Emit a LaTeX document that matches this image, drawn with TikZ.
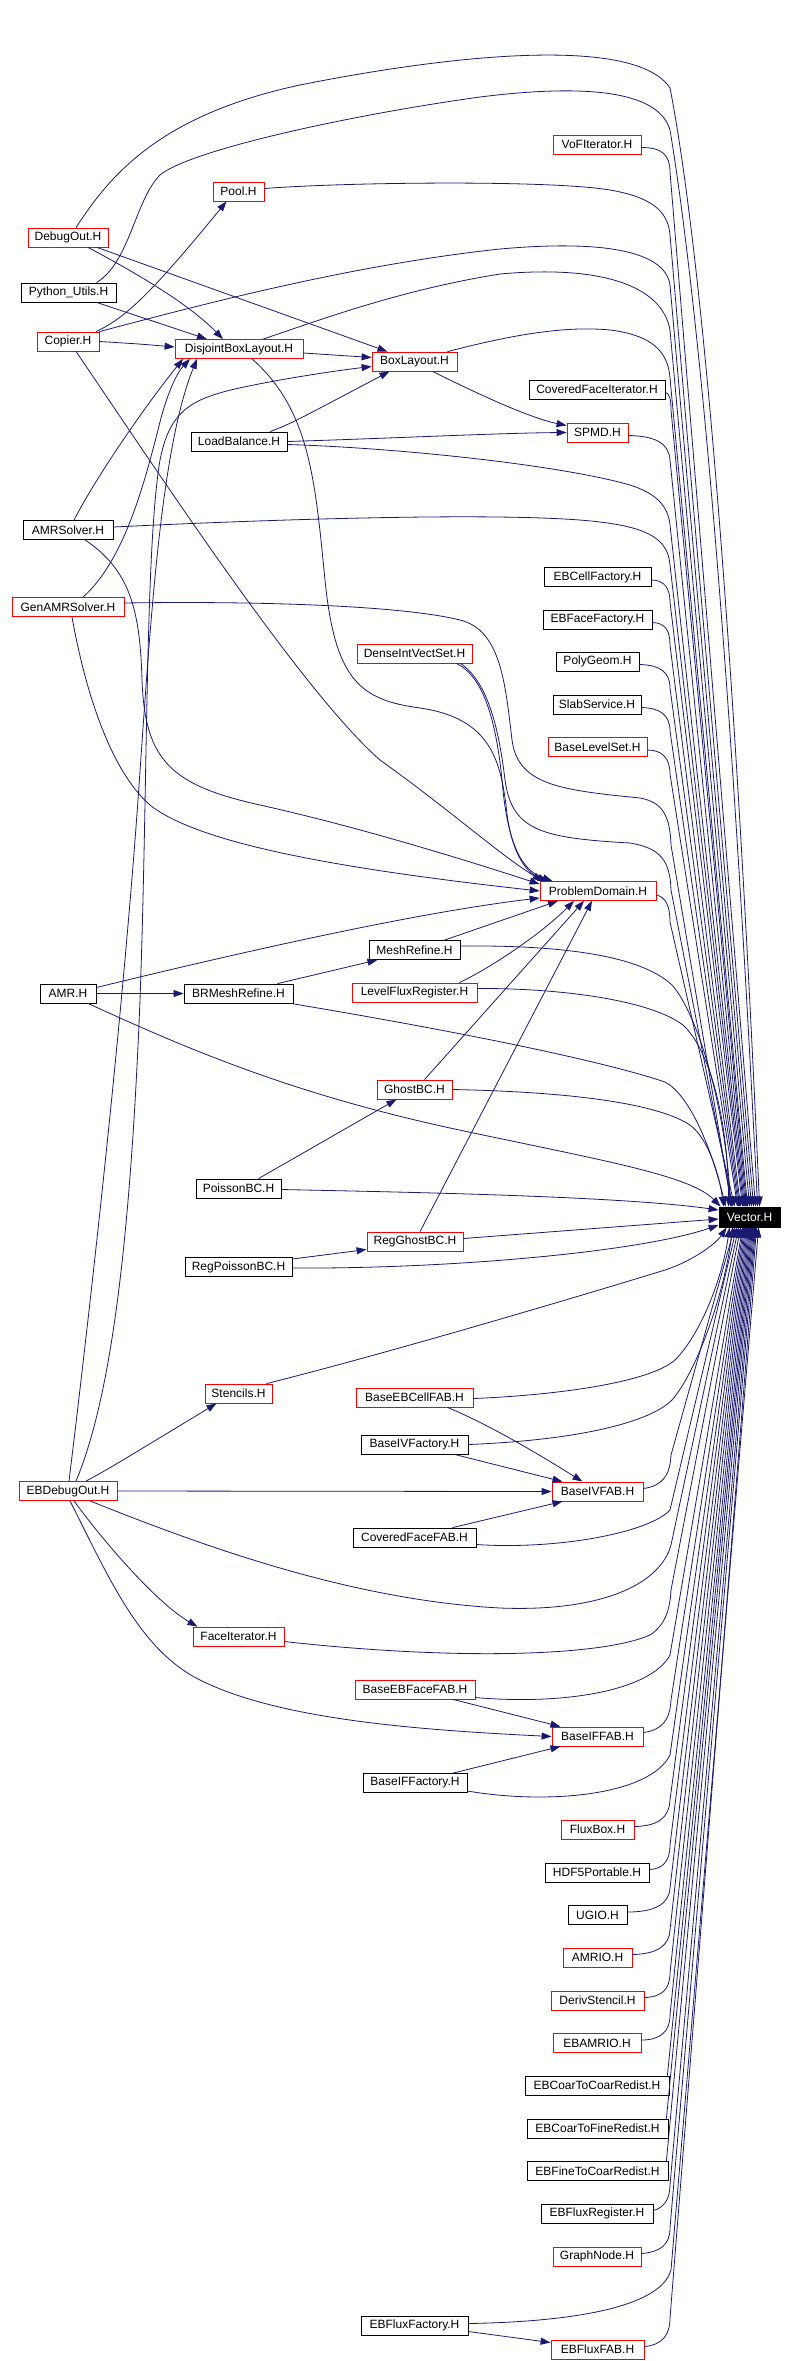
\documentclass[tikz,border=0pt]{standalone}
\usepackage{fontspec}
\setmainfont{Liberation Sans}
\usetikzlibrary{arrows.meta}
\definecolor{edgeblue}{RGB}{25,25,112}

\begin{document}
\begin{tikzpicture}[x=1pt,y=-1pt,>={Triangle[length=10pt,width=7pt]},
	  file/.style={draw=black,fill=white,line width=0.8pt,minimum height=19pt,inner sep=0pt,font=\fontsize{12}{14}\selectfont},
	  redfile/.style={file,draw=red},
	  incl/.style={->,draw=edgeblue,line width=0.8pt}]
	  \useasboundingbox (0,0) rectangle (794,2361);
	  \node[redfile,minimum width=80pt] (debugout) at (68,237.5) {DebugOut.H};
	  \node[file,minimum width=95pt] (pyutils) at (68.5,292.5) {Python\_Utils.H};
	  \node[redfile,minimum width=62pt] (copier) at (68,341.5) {Copier.H};
	  \node[file,minimum width=90pt] (amrsolver) at (68,530) {AMRSolver.H};
	  \node[redfile,minimum width=112pt] (genamrsolver) at (68,607) {GenAMRSolver.H};
	  \node[file,minimum width=56pt] (amr) at (68,993.5) {AMR.H};
	  \node[redfile,minimum width=98pt] (ebdebugout) at (68,1491) {EBDebugOut.H};
	  \node[redfile,minimum width=51pt] (pool) at (238.5,191.5) {Pool.H};
	  \node[redfile,minimum width=128pt] (dbl) at (239,349) {DisjointBoxLayout.H};
	  \node[file,minimum width=96pt] (loadbalance) at (239,441.5) {LoadBalance.H};
	  \node[file,minimum width=109pt] (brmesh) at (238.5,993.5) {BRMeshRefine.H};
	  \node[file,minimum width=85pt] (poissonbc) at (238.5,1188.5) {PoissonBC.H};
	  \node[file,minimum width=107pt] (regpoissonbc) at (238.5,1267) {RegPoissonBC.H};
	  \node[redfile,minimum width=67pt] (stencils) at (238.5,1393.5) {Stencils.H};
	  \node[redfile,minimum width=91pt] (faceiter) at (238.5,1636.5) {FaceIterator.H};
	  \node[redfile,minimum width=85pt] (boxlayout) at (414.5,361.5) {BoxLayout.H};
	  \node[redfile,minimum width=115pt] (denseivs) at (414.5,653.5) {DenseIntVectSet.H};
	  \node[file,minimum width=91pt] (meshrefine) at (414.5,950) {MeshRefine.H};
	  \node[redfile,minimum width=125pt] (levelflux) at (414.5,992.5) {LevelFluxRegister.H};
	  \node[redfile,minimum width=75pt] (ghostbc) at (414.5,1089.5) {GhostBC.H};
	  \node[redfile,minimum width=96pt] (regghostbc) at (415,1241.5) {RegGhostBC.H};
	  \node[redfile,minimum width=117pt] (baseebcellfab) at (414.5,1397.5) {BaseEBCellFAB.H};
	  \node[file,minimum width=107pt] (baseivfactory) at (414.5,1444.5) {BaseIVFactory.H};
	  \node[file,minimum width=123pt] (coveredfacefab) at (414.5,1537.5) {CoveredFaceFAB.H};
	  \node[redfile,minimum width=120pt] (baseebfacefab) at (415,1689.5) {BaseEBFaceFAB.H};
	  \node[file,minimum width=104pt] (baseiffactory) at (415,1783) {BaseIFFactory.H};
	  \node[file,minimum width=107pt] (ebfluxfactory) at (414.5,2325.5) {EBFluxFactory.H};
	  \node[redfile,minimum width=88pt] (vofiter) at (597,144.5) {VoFIterator.H};
	  \node[file,minimum width=136pt] (cfiter) at (597,389.5) {CoveredFaceIterator.H};
	  \node[redfile,minimum width=61pt] (spmd) at (597.5,432.5) {SPMD.H};
	  \node[file,minimum width=107pt] (ebcellfactory) at (597.5,577) {EBCellFactory.H};
	  \node[file,minimum width=109pt] (ebfacefactory) at (597.5,619.5) {EBFaceFactory.H};
	  \node[file,minimum width=83pt] (polygeom) at (597.5,661.5) {PolyGeom.H};
	  \node[file,minimum width=88pt] (slabservice) at (597,704.5) {SlabService.H};
	  \node[redfile,minimum width=99pt] (baselevelset) at (597.5,747) {BaseLevelSet.H};
	  \node[redfile,minimum width=116pt] (probdomain) at (598,891) {ProblemDomain.H};
	  \node[redfile,minimum width=91pt] (baseivfab) at (597.5,1491.5) {BaseIVFAB.H};
	  \node[redfile,minimum width=91pt] (baseiffab) at (597.5,1736.5) {BaseIFFAB.H};
	  \node[redfile,minimum width=73pt] (fluxbox) at (597.5,1829.5) {FluxBox.H};
	  \node[file,minimum width=104pt] (hdf5) at (597,1872.5) {HDF5Portable.H};
	  \node[file,minimum width=59pt] (ugio) at (597.5,1915) {UGIO.H};
	  \node[redfile,minimum width=69pt] (amrio) at (597.5,1957.5) {AMRIO.H};
	  \node[redfile,minimum width=93pt] (derivstencil) at (597.5,2000.5) {DerivStencil.H};
	  \node[redfile,minimum width=88pt] (ebamrio) at (597,2043) {EBAMRIO.H};
	  \node[file,minimum width=144pt] (ebc2c) at (597,2085.5) {EBCoarToCoarRedist.H};
	  \node[file,minimum width=141pt] (ebc2f) at (597.5,2128.5) {EBCoarToFineRedist.H};
	  \node[file,minimum width=141pt] (ebf2c) at (597.5,2171) {EBFineToCoarRedist.H};
	  \node[file,minimum width=112pt] (ebfluxreg) at (597,2213.5) {EBFluxRegister.H};
	  \node[redfile,minimum width=88pt] (graphnode) at (597,2256.5) {GraphNode.H};
	  \node[redfile,minimum width=93pt] (ebfluxfab) at (597.5,2349.5) {EBFluxFAB.H};
	  \node[file,fill=black,text=white,minimum width=61pt,minimum height=20pt] (vector) at (749.5,1217) {Vector.H};
	  \draw[incl] ([xshift=20pt]debugout.south) .. controls (140,275) and (190,305) .. ([xshift=-16pt]dbl.north);
	  \draw[incl] ([xshift=29pt]debugout.south) -- ([xshift=-27pt]boxlayout.north);
	  \draw[incl] ([xshift=8pt]debugout.north) .. controls (110,175) and (160,115) .. (300,85) .. controls (450,55) and (635,35) .. (670,88) .. controls (692,200) and (728,500) .. ([xshift=41pt]vector.north west);
	  \draw[incl] ([xshift=28pt]pyutils.south) -- ([xshift=-32pt]dbl.north);
	  \draw[incl] ([xshift=28pt]pyutils.north) .. controls (130,262) and (135,200) .. (160,175) .. controls (190,150) and (350,115) .. (480,97) .. controls (600,82) and (660,95) .. (670,130) .. controls (690,250) and (725,550) .. ([xshift=39pt]vector.north west);
	  \draw[incl] ([xshift=28pt]copier.north) .. controls (125,318) and (150,295) .. ([xshift=-12pt]pool.south);
	  \draw[incl] (copier.east) .. controls (140,344) .. ([yshift=2pt]dbl.west);
	  \draw[incl] (copier.north east) .. controls (200,305) and (350,265) .. (500,249) .. controls (600,240) and (665,250) .. (670,285) -- ([xshift=33pt]vector.north west);
	  \draw[incl] ([xshift=8pt]copier.south) .. controls (150,460) and (300,690) .. (380,760) .. controls (450,810) and (500,855) .. ([xshift=3pt]probdomain.north west);
	  \draw[incl] ([yshift=3pt]pool.east) .. controls (350,182) and (550,180) .. (610,190) .. controls (650,197) and (668,210) .. (670,235) -- ([xshift=35pt]vector.north west);
	  \draw[incl] ([yshift=-3pt]vofiter.east) .. controls (662,147.5) and (670,155) .. (670,172) -- ([xshift=37pt]vector.north west);
	  \draw[incl] ([yshift=-4pt]dbl.east) -- ([yshift=4pt]boxlayout.west);
	  \draw[incl] ([xshift=24pt]dbl.north) .. controls (320,320) and (400,290) .. (500,274) .. controls (600,265) and (662,285) .. (670,330) -- ([xshift=31pt]vector.north west);
	  \draw[incl] ([xshift=13pt]dbl.south) .. controls (310,410) and (315,480) .. (325,580) .. controls (335,680) and (360,700) .. (420,708) .. controls (490,718) and (500,760) .. (506,805) .. controls (510,850) and (525,872) .. ([xshift=8pt]probdomain.north west);
	  \draw[incl] ([xshift=18pt]boxlayout.south) .. controls (480,395) and (530,418) .. ([yshift=7pt]spmd.west);
	  \draw[incl] ([xshift=33pt]boxlayout.north) .. controls (500,338) and (560,325) .. (610,330) .. controls (650,335) and (668,350) .. (670,378) -- ([xshift=29pt]vector.north west);
	  \draw[incl] ([yshift=-3pt]cfiter.east) .. controls (669,393) and (671,398) .. (671,410) -- ([xshift=28pt]vector.north west);
	  \draw[incl] ([xshift=31pt]loadbalance.north) .. controls (290,424) .. ([xshift=-25pt]boxlayout.south);
	  \draw[incl] (loadbalance.east) .. controls (400,438) and (500,433) .. (spmd.west);
	  \draw[incl] ([yshift=-3pt]loadbalance.east) .. controls (400,448) and (560,465) .. (630,485) .. controls (655,493) and (668,505) .. (670,525) -- ([xshift=26pt]vector.north west);
	  \draw[incl] ([yshift=-3pt]spmd.east) .. controls (655,436) and (669,443) .. (670,460) -- ([xshift=27pt]vector.north west);
	  \draw[incl] ([xshift=6pt]amrsolver.north) .. controls (100,470) and (150,400) .. ([xshift=-56pt]dbl.south);
	  \draw[incl] ([yshift=3pt]amrsolver.east) .. controls (300,518) and (520,512) .. (600,522) .. controls (650,528) and (668,540) .. (670,565) -- ([xshift=25pt]vector.north west);
	  \draw[incl] ([xshift=17pt]amrsolver.south) .. controls (130,570) and (140,610) .. (142,680) .. controls (145,760) and (170,785) .. (260,805) .. controls (350,825) and (450,855) .. ([yshift=-3pt]probdomain.north west);
	  \draw[incl] ([xshift=15pt]genamrsolver.north) .. controls (125,560) and (145,480) .. (158,430) .. controls (165,400) and (175,375) .. ([xshift=-49pt]dbl.south);
	  \draw[incl] ([yshift=4pt]genamrsolver.east) .. controls (250,601) and (400,605) .. (460,620) .. controls (500,630) and (505,680) .. (512,740) .. controls (518,785) and (560,790) .. (640,798) .. controls (662,802) and (670,815) .. (671,845) -- ([xshift=13pt]vector.north west);
	  \draw[incl] ([xshift=4pt]genamrsolver.south) .. controls (85,690) and (110,770) .. (150,805) .. controls (200,845) and (350,870) .. (probdomain.west);
	  \draw[incl] ([yshift=-3pt]ebcellfactory.east) .. controls (664,580) and (670,588) .. (670,602) -- ([xshift=24pt]vector.north west);
	  \draw[incl] ([yshift=-3pt]ebfacefactory.east) .. controls (665,623) and (670,630) .. (670,645) -- ([xshift=22pt]vector.north west);
	  \draw[incl] ([yshift=-3pt]polygeom.east) .. controls (660,665) and (670,672) .. (670,688) -- ([xshift=21pt]vector.north west);
	  \draw[incl] ([yshift=-3pt]slabservice.east) .. controls (660,708) and (670,715) .. (670,731) -- ([xshift=20pt]vector.north west);
	  \draw[incl] ([yshift=-3pt]baselevelset.east) .. controls (662,750) and (670,758) .. (670,774) -- ([xshift=19pt]vector.north west);
	  \draw[incl] ([xshift=42pt]denseivs.south) .. controls (480,675) and (495,710) .. (502,780) .. controls (507,840) and (520,870) .. ([xshift=13pt]probdomain.north west);
	  \draw[incl] ([xshift=46pt]denseivs.south) .. controls (485,680) and (498,720) .. (505,780) .. controls (512,830) and (540,838) .. (630,843) .. controls (660,848) and (670,860) .. (671,890) -- ([xshift=14pt]vector.north west);
	  \draw[incl] ([yshift=-4pt]probdomain.east) .. controls (665,897) and (670,905) .. (670,922) -- ([xshift=16pt]vector.north west);
	  \draw[incl] ([yshift=6pt]amr.east) .. controls (250,950) and (420,912) .. ([yshift=-7pt]probdomain.west);
	  \draw[incl] (amr.east) -- (brmesh.west);
	  \draw[incl] ([xshift=20pt]amr.south) .. controls (200,1055) and (300,1095) .. (450,1128) .. controls (600,1160) and (690,1175) .. ([xshift=2pt]vector.north west);
	  \draw[incl] ([xshift=39pt]brmesh.north) -- ([xshift=-37pt]meshrefine.south);
	  \draw[incl] ([xshift=52pt]brmesh.south) .. controls (450,1030) and (600,1060) .. (665,1082) .. controls (690,1095) and (712,1150) .. ([xshift=7pt]vector.north west);
	  \draw[incl] ([xshift=30pt]meshrefine.north) -- ([xshift=-40pt]probdomain.south);
	  \draw[incl] ([yshift=4pt]meshrefine.east) .. controls (560,945) and (640,955) .. (672,985) .. controls (695,1010) and (725,1100) .. ([xshift=12pt]vector.north west);
	  \draw[incl] ([xshift=45pt]levelflux.north) .. controls (490,968) and (540,935) .. ([xshift=-24pt]probdomain.south);
	  \draw[incl] ([yshift=4pt]levelflux.east) .. controls (560,988) and (650,1000) .. (683,1025) .. controls (710,1050) and (728,1120) .. ([xshift=10pt]vector.north west);
	  \draw[incl] ([xshift=10pt]ghostbc.north) -- ([xshift=-14pt]probdomain.south);
	  \draw[incl] (ghostbc.east) .. controls (580,1092) and (660,1105) .. (690,1125) .. controls (710,1140) and (720,1180) .. ([xshift=5pt]vector.north west);
	  \draw[incl] ([xshift=20pt]poissonbc.north) -- ([xshift=-18pt]ghostbc.south);
	  \draw[incl] ([yshift=-1pt]poissonbc.east) .. controls (400,1192) and (620,1196) .. ([yshift=7pt]vector.west);
	  \draw[incl] ([xshift=5pt]regghostbc.north) -- ([xshift=-6pt]probdomain.south);
	  \draw[incl] ([yshift=3pt]regghostbc.east) -- ([yshift=-2pt]vector.west);
	  \draw[incl] ([yshift=8pt]regpoissonbc.east) -- ([yshift=-8pt]regghostbc.west);
	  \draw[incl] ([yshift=-1pt]regpoissonbc.east) .. controls (450,1269) and (640,1252) .. ([yshift=-8pt]vector.west);
	  \draw[incl] ([xshift=28pt]stencils.north) .. controls (400,1350) and (600,1290) .. (665,1270) .. controls (690,1262) and (715,1245) .. ([xshift=8pt]vector.south west);
	  \draw[incl] ([xshift=18pt]ebdebugout.north) .. controls (110,1468) .. ([xshift=-22pt]stencils.south);
	  \draw[incl] ([xshift=1pt]ebdebugout.north) .. controls (85,1350) and (120,1050) .. (138,800) .. controls (150,630) and (160,450) .. ([xshift=-42pt]dbl.south);
	  \draw[incl] ([xshift=8pt]ebdebugout.north) .. controls (110,1400) and (130,1250) .. (140,1000) .. controls (148,780) and (145,550) .. (160,460) .. controls (172,400) and (200,395) .. (280,380) .. controls (320,373) and (350,369) .. ([yshift=-5pt]boxlayout.west);
	  \draw[incl] (ebdebugout.east) -- (baseivfab.west);
	  \draw[incl] ([xshift=22pt]ebdebugout.south) .. controls (200,1545) and (350,1600) .. (500,1608) .. controls (600,1612) and (660,1585) .. (671,1545) -- ([xshift=20pt]vector.south west);
	  \draw[incl] ([xshift=6pt]ebdebugout.south) .. controls (110,1550) and (160,1605) .. ([xshift=-41pt]faceiter.north);
	  \draw[incl] ([xshift=2pt]ebdebugout.south) .. controls (110,1580) and (140,1650) .. (200,1680) .. controls (280,1720) and (420,1730) .. (baseiffab.west);
	  \draw[incl] ([xshift=33pt]baseebcellfab.south) .. controls (490,1425) and (540,1455) .. ([xshift=-15pt]baseivfab.north);
	  \draw[incl] ([yshift=-1pt]baseebcellfab.east) .. controls (560,1395) and (650,1382) .. (675,1360) .. controls (700,1335) and (722,1280) .. ([xshift=11pt]vector.south west);
	  \draw[incl] ([xshift=40pt]baseivfactory.south) -- ([xshift=-35pt]baseivfab.north);
	  \draw[incl] (baseivfactory.east) .. controls (580,1440) and (650,1422) .. (672,1400) .. controls (698,1370) and (725,1290) .. ([xshift=14pt]vector.south west);
	  \draw[incl] ([xshift=38pt]coveredfacefab.north) -- ([xshift=-35pt]baseivfab.south);
	  \draw[incl] ([yshift=-7pt]coveredfacefab.east) .. controls (560,1550) and (650,1532) .. (670,1510) -- ([xshift=18pt]vector.south west);
	  \draw[incl] ([yshift=3pt]baseivfab.east) .. controls (662,1486) and (670,1476) .. (671,1455) -- ([xshift=16pt]vector.south west);
	  \draw[incl] ([yshift=-5pt]faceiter.east) .. controls (450,1660) and (600,1657) .. (650,1635) .. controls (665,1625) and (670,1610) .. (671,1590) -- ([xshift=22pt]vector.south west);
	  \draw[incl] ([xshift=38pt]baseebfacefab.south) -- ([xshift=-37pt]baseiffab.north);
	  \draw[incl] ([yshift=-8pt]baseebfacefab.east) .. controls (560,1705) and (650,1692) .. (670,1655) -- ([xshift=24pt]vector.south west);
	  \draw[incl] ([xshift=38pt]baseiffactory.north) -- ([xshift=-37pt]baseiffab.south);
	  \draw[incl] ([yshift=-8pt]baseiffactory.east) .. controls (550,1805) and (650,1795) .. (670,1755) -- ([xshift=26pt]vector.south west);
	  \draw[incl] ([yshift=4pt]baseiffab.east) .. controls (662,1730) and (670,1720) .. (671,1700) -- ([xshift=25pt]vector.south west);
	  \draw[incl] ([yshift=3pt]fluxbox.east) .. controls (658,1826) and (669,1818) .. (670,1800) -- ([xshift=27pt]vector.south west);
	  \draw[incl] ([yshift=3pt]hdf5.east) .. controls (662,1869) and (670,1862) .. (670,1845) -- ([xshift=28pt]vector.south west);
	  \draw[incl] ([yshift=3pt]ugio.east) .. controls (655,1912) and (669,1904) .. (670,1888) -- ([xshift=29pt]vector.south west);
	  \draw[incl] ([yshift=3pt]amrio.east) .. controls (657,1954) and (669,1946) .. (670,1930) -- ([xshift=30pt]vector.south west);
	  \draw[incl] ([yshift=3pt]derivstencil.east) .. controls (661,1997) and (670,1990) .. (670,1973) -- ([xshift=31pt]vector.south west);
	  \draw[incl] ([yshift=3pt]ebamrio.east) .. controls (660,2040) and (670,2032) .. (670,2015) -- ([xshift=32pt]vector.south west);
	  \draw[incl] ([xshift=-2pt]ebc2c.north east) -- ([xshift=33pt]vector.south west);
	  \draw[incl] ([xshift=-2pt]ebc2f.north east) -- ([xshift=34pt]vector.south west);
	  \draw[incl] ([xshift=-2pt]ebf2c.north east) -- ([xshift=35pt]vector.south west);
	  \draw[incl] ([yshift=3pt]ebfluxreg.east) .. controls (663,2208) and (670,2200) .. (670,2185) -- ([xshift=36pt]vector.south west);
	  \draw[incl] ([yshift=3pt]graphnode.east) .. controls (660,2252) and (670,2245) .. (670,2228) -- ([xshift=37pt]vector.south west);
	  \draw[incl] ([yshift=3pt]ebfluxfab.east) .. controls (662,2345) and (670,2335) .. (670,2318) -- ([xshift=38pt]vector.south west);
	  \draw[incl] ([yshift=2pt]ebfluxfactory.east) .. controls (560,2322) and (660,2310) .. (671,2270) -- ([xshift=40pt]vector.south west);
	  \draw[incl] ([yshift=-6pt]ebfluxfactory.east) -- ([yshift=7pt]ebfluxfab.west);
	\end{tikzpicture}
\end{document}
